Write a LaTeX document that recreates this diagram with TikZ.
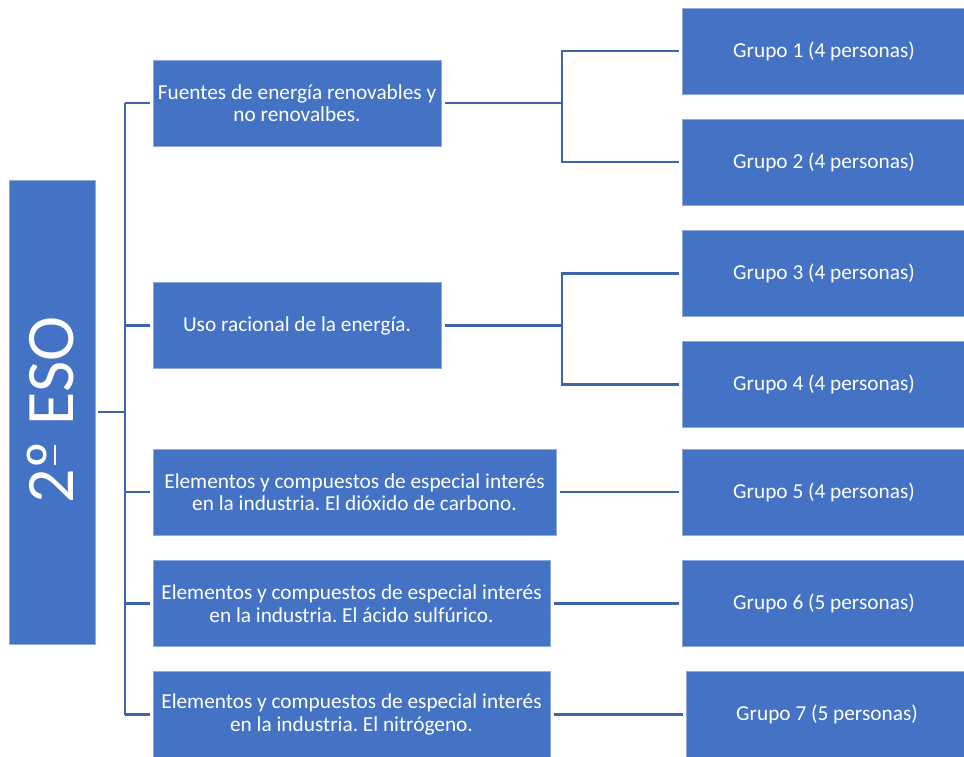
\documentclass[tikz,border=0pt]{standalone}
\usepackage{fontspec}
\setmainfont{Carlito}
\frenchspacing
\definecolor{boxblue}{RGB}{68,114,196}
\definecolor{connblue}{RGB}{62,100,172}
\newcommand{\ordunder}{\ooalign{º\cr\hidewidth\raisebox{0.27em}{\rule{0.3em}{0.03em}}\hidewidth\cr}}
\begin{document}
\begin{tikzpicture}[x=1pt,y=-1pt,
  box/.style={fill=boxblue, draw=boxblue!60!white, line width=0.6pt, text=white, align=center, inner sep=0pt,
    font=\fontsize{21.3}{22.5}\selectfont},
  conn/.style={draw=connblue, line width=2.6pt}]
\useasboundingbox (0,0) rectangle (964,756);
% root
\node[box, minimum width=86, minimum height=464] (root) at (52,412) {};
\node[text=white, rotate=90, font=\fontsize{68}{70}\selectfont] (roottxt) at (51,410) {2\ordunder\ ESO};
% level 1
\node[box, minimum width=288, minimum height=86] (b1) at (297,103) {Fuentes de energía renovables y\\no renovalbes.};
\node[box, minimum width=288, minimum height=86] (b2) at (297,325.5) {Uso racional de la energía.};
\node[box, minimum width=403, minimum height=86] (b3) at (354.5,492) {Elementos y compuestos de especial interés\\en la industria. El dióxido de carbono.};
\node[box, minimum width=397, minimum height=86] (b4) at (351.5,603.5) {Elementos y compuestos de especial interés\\en la industria. El ácido sulfúrico.};
\node[box, minimum width=397, minimum height=86] (b5) at (351.5,714.5) {Elementos y compuestos de especial interés\\en la industria. El nitrógeno.};
% level 2
\node[box, minimum width=284, minimum height=86] (g1) at (824,51) {Grupo 1 (4 personas)};
\node[box, minimum width=284, minimum height=86] (g2) at (824,162) {Grupo 2 (4 personas)};
\node[box, minimum width=284, minimum height=86] (g3) at (824,273.5) {Grupo 3 (4 personas)};
\node[box, minimum width=284, minimum height=86] (g4) at (824,384.5) {Grupo 4 (4 personas)};
\node[box, minimum width=284, minimum height=86] (g5) at (824,492) {Grupo 5 (4 personas)};
\node[box, minimum width=284, minimum height=86] (g6) at (824,603.5) {Grupo 6 (5 personas)};
\node[box, minimum width=281, minimum height=86] (g7) at (827,714.5) {Grupo 7 (5 personas)};
% connectors
\coordinate (t) at (125,412);
\coordinate (j1) at (562,103);
\coordinate (j2) at (562,325.5);
\draw[conn] ([xshift=3]root.east) -- (t);
\draw[conn] (t |- b1.west) -- (t |- b5.west);
\foreach \b in {b1,b2,b3,b4,b5}
  \draw[conn] (t |- \b.west) -- ([xshift=-3]\b.west);
\draw[conn] ([xshift=4]b1.east) -- (j1);
\draw[conn] ([xshift=-3]g1.west) -| (j1) |- ([xshift=-3]g2.west);
\draw[conn] ([xshift=4]b2.east) -- (j2);
\draw[conn] ([xshift=-3]g3.west) -| (j2) |- ([xshift=-3]g4.west);
\draw[conn] ([xshift=4]b3.east) -- ([xshift=-3]g5.west);
\draw[conn] ([xshift=4]b4.east) -- ([xshift=-3]g6.west);
\draw[conn] ([xshift=4]b5.east) -- ([xshift=-3]g7.west);
\end{tikzpicture}
\end{document}
